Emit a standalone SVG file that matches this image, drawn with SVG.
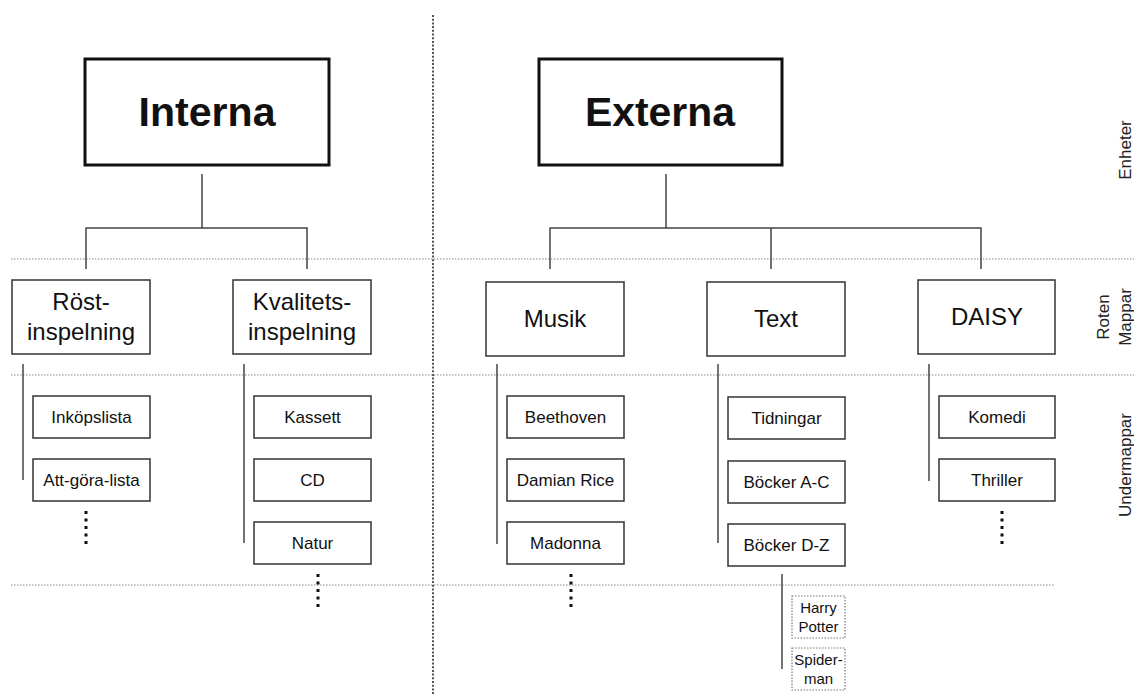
<svg xmlns="http://www.w3.org/2000/svg" width="1134" height="695" viewBox="0 0 1134 695">
<style>
text{font-family:"Liberation Sans",Arial,sans-serif;fill:#111;text-anchor:middle}
.top{fill:#fff;stroke:#111;stroke-width:3}
.root{fill:#fff;stroke:#333;stroke-width:1.5}
.sub{fill:#fff;stroke:#333;stroke-width:1.5}
.leaf{fill:#fff;stroke:#777;stroke-width:1.2;stroke-dasharray:1.5 1.5}
.t1{font-size:41px;font-weight:bold}
.t2{font-size:24px}
.t3{font-size:17px}
.t4{font-size:15px}
.side{font-size:17px;fill:#222}
.grid{stroke:#888;stroke-width:1.2;stroke-dasharray:1.5 1.5;fill:none}
.vgrid{stroke:#555;stroke-width:2;stroke-dasharray:2 1.7;fill:none}
.con{stroke:#444;stroke-width:1.5;fill:none}
.dots{stroke:#111;stroke-width:3;stroke-dasharray:3 4.5;fill:none}
</style>
<g id="gridlines">
<line class="vgrid" x1="433" y1="15" x2="433" y2="695"/>
<line class="grid" x1="11" y1="259" x2="1134" y2="259"/>
<line class="grid" x1="11" y1="375" x2="1134" y2="375"/>
<line class="grid" x1="11" y1="585" x2="1055" y2="585"/>
</g>
<g id="side-labels">
<text class="side" transform="translate(1131,150) rotate(-90)">Enheter</text>
<text class="side" transform="translate(1109,317) rotate(-90)">Roten</text>
<text class="side" transform="translate(1131,317) rotate(-90)">Mappar</text>
<text class="side" transform="translate(1131,465) rotate(-90)">Undermappar</text>
</g>
<g id="connectors">
<path class="con" d="M202,174V228M86,269V228H307V269"/>
<path class="con" d="M666,174V228M550,269V228H981V269M771,228V269"/>
<line class="con" x1="23" y1="364" x2="23" y2="480"/>
<line class="con" x1="244" y1="364" x2="244" y2="543"/>
<line class="con" x1="497" y1="364" x2="497" y2="544"/>
<line class="con" x1="718" y1="364" x2="718" y2="543"/>
<line class="con" x1="929" y1="364" x2="929" y2="481"/>
<line class="con" x1="782" y1="574" x2="782" y2="669"/>
</g>
<g id="ellipses">
<line class="dots" x1="86" y1="511" x2="86" y2="545"/>
<line class="dots" x1="318" y1="574" x2="318" y2="608"/>
<line class="dots" x1="571" y1="574" x2="571" y2="608"/>
<line class="dots" x1="1002" y1="511" x2="1002" y2="545"/>
</g>
<g id="interna"><rect class="top" x="85" y="59" width="244" height="106"/><text class="t1" x="207" y="126" textLength="137" lengthAdjust="spacingAndGlyphs">Interna</text></g>
<g id="externa"><rect class="top" x="539" y="59" width="243" height="106"/><text class="t1" x="660" y="126" textLength="150" lengthAdjust="spacingAndGlyphs">Externa</text></g>
<g id="rost"><rect class="root" x="12" y="280" width="138" height="74"/><text class="t2" x="81" y="310">Röst-</text><text class="t2" x="81" y="340">inspelning</text></g>
<g id="kvalitet"><rect class="root" x="233" y="280" width="138" height="74"/><text class="t2" x="302" y="310">Kvalitets-</text><text class="t2" x="302" y="340">inspelning</text></g>
<g id="musik"><rect class="root" x="486" y="282" width="138" height="74"/><text class="t2" x="555" y="327">Musik</text></g>
<g id="text"><rect class="root" x="707" y="282" width="138" height="74"/><text class="t2" x="776" y="327">Text</text></g>
<g id="daisy"><rect class="root" x="918" y="280" width="137" height="74"/><text class="t2" x="987" y="325">DAISY</text></g>
<g id="inkopslista"><rect class="sub" x="33" y="396" width="117" height="42"/><text class="t3" x="91.5" y="423">Inköpslista</text></g>
<g id="attgora"><rect class="sub" x="33" y="459" width="117" height="42"/><text class="t3" x="91.5" y="486">Att-göra-lista</text></g>
<g id="kassett"><rect class="sub" x="254" y="396" width="117" height="42"/><text class="t3" x="312.5" y="423">Kassett</text></g>
<g id="cd"><rect class="sub" x="254" y="459" width="117" height="42"/><text class="t3" x="312.5" y="486">CD</text></g>
<g id="natur"><rect class="sub" x="254" y="522" width="117" height="42"/><text class="t3" x="312.5" y="549">Natur</text></g>
<g id="beethoven"><rect class="sub" x="507" y="396" width="117" height="42"/><text class="t3" x="565.5" y="423">Beethoven</text></g>
<g id="damian"><rect class="sub" x="507" y="459" width="117" height="42"/><text class="t3" x="565.5" y="486">Damian Rice</text></g>
<g id="madonna"><rect class="sub" x="507" y="522" width="117" height="42"/><text class="t3" x="565.5" y="549">Madonna</text></g>
<g id="tidningar"><rect class="sub" x="728" y="397" width="117" height="42"/><text class="t3" x="786.5" y="424">Tidningar</text></g>
<g id="bockerac"><rect class="sub" x="728" y="461" width="117" height="42"/><text class="t3" x="786.5" y="488">Böcker A-C</text></g>
<g id="bockerdz"><rect class="sub" x="728" y="524" width="117" height="42"/><text class="t3" x="786.5" y="551">Böcker D-Z</text></g>
<g id="komedi"><rect class="sub" x="939" y="396" width="116" height="42"/><text class="t3" x="997" y="423">Komedi</text></g>
<g id="thriller"><rect class="sub" x="939" y="459" width="116" height="42"/><text class="t3" x="997" y="486">Thriller</text></g>
<g id="harrypotter"><rect class="leaf" x="792" y="596" width="53" height="42"/><text class="t4" x="818.5" y="613">Harry</text><text class="t4" x="818.5" y="632">Potter</text></g>
<g id="spiderman"><rect class="leaf" x="792" y="648" width="53" height="42"/><text class="t4" x="818.5" y="665">Spider-</text><text class="t4" x="818.5" y="684">man</text></g>
</svg>
